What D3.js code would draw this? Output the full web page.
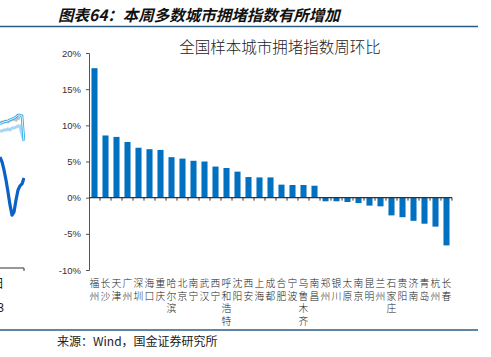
<!DOCTYPE html>
<html><head><meta charset="utf-8">
<script src="https://cdn.jsdelivr.net/npm/d3@7"></script>
<style>html,body{margin:0;padding:0;background:#fff;} svg{display:block}</style>
</head><body>
<svg id="c" width="491" height="357"></svg>
<script>
// ---- main chart data ----
const cities = ["福州","长沙","天津","广州","深圳","海口","重庆","哈尔滨","北京","南宁","武汉","西宁","呼和浩特","沈阳","西安","上海","成都","合肥","宁波","乌鲁木齐","南昌","郑州","银川","太原","南京","昆明","兰州","石家庄","贵阳","济南","青岛","杭州","长春"];
const changes = [17.9,8.6,8.4,7.7,6.9,6.7,6.6,5.6,5.4,5.1,5.0,4.3,4.1,3.6,2.85,2.8,2.8,1.8,1.75,1.75,1.65,-0.5,-0.5,-0.6,-0.75,-1.1,-1.2,-2.45,-2.7,-3.2,-3.6,-4.0,-6.6];
const yTicks = [-10,-5,0,5,10,15,20];
const chartTitle = "全国样本城市拥堵指数周环比";
const headerTitle = "图表64：本周多数城市拥堵指数有所增加";
const sourceText = "来源：Wind，国金证券研究所";

// ---- cropped neighbouring chart (left edge) ----
const leftIdx = [0,1,2,3,4,5,6,7,8,9,10,11,12];
const leftDark = [51.4,49.1,45.4,40.7,35.2,29.2,24.5,25.9,31.5,36.1,38.0,38.9,41.7];
const leftLight = [63.4,63.4,63.9,63.9,64.4,63.9,64.8,64.8,65.2,65.7,65.7,61.6,58.8];
const leftGray = [67.1,67.6,67.6,68.1,67.6,68.5,68.5,69.0,68.5,69.4,69.0,null,null];
const leftCyan = [66.7,67.2,67.6,67.9,68.1,68.6,69.0,69.4,69.9,70.8,70.8,70.4,58.8];

const svg = d3.select("#c");
svg.append("rect").attr("width",491).attr("height",357).attr("fill","#fff");

// header
svg.append("text").attr("x",58).attr("y",21)
  .attr("font-family","'Noto Sans CJK SC'").attr("font-size",15.5)
  .attr("font-weight","bold").attr("font-style","italic").attr("fill","#111")
  .text(headerTitle);
svg.append("line").attr("x1",0).attr("x2",478).attr("y1",26.5).attr("y2",26.5)
  .attr("stroke","#2b5d86").attr("stroke-width",1.6);
svg.append("line").attr("x1",0).attr("x2",478).attr("y1",330).attr("y2",330)
  .attr("stroke","#2b5d86").attr("stroke-width",1.6);
svg.append("text").attr("x",57).attr("y",346)
  .attr("font-family","'Noto Sans CJK SC'").attr("font-size",12).attr("fill","#222")
  .text(sourceText);

// ---- left cropped chart ----
svg.append("clipPath").attr("id","lc").append("rect")
  .attr("x",0).attr("y",40).attr("width",25).attr("height",300);
const gl = svg.append("g").attr("clip-path","url(#lc)");
const xL = d3.scaleLinear().domain([0,12]).range([0,24]);
const yL = d3.scaleLinear().domain([0,100]).range([268,52]);
const ln = arr => d3.line().defined(d=>d[1]!=null).x(d=>xL(d[0])).y(d=>yL(d[1]))(leftIdx.map((i,k)=>[i,arr[k]]));
gl.append("path").attr("d",ln(leftGray)).attr("fill","none").attr("stroke","#c4c4c4").attr("stroke-width",3);
gl.append("path").attr("d",ln(leftLight)).attr("fill","none").attr("stroke","#a6d8f3").attr("stroke-width",3);
gl.append("path").attr("d",ln(leftCyan)).attr("fill","none").attr("stroke","#2aa7ea").attr("stroke-width",2.6);
gl.append("path").attr("d",ln(leftCyan)).attr("fill","none").attr("stroke","#fff").attr("stroke-width",0.9);
gl.append("path").attr("d",ln(leftDark)).attr("fill","none").attr("stroke","#0a62c9").attr("stroke-width",3.2).attr("stroke-linejoin","round");
svg.append("line").attr("x1",0).attr("x2",xL(12)).attr("y1",yL(0)).attr("y2",yL(0)).attr("stroke","#333").attr("stroke-width",1);
svg.append("line").attr("x1",xL(12)).attr("x2",xL(12)).attr("y1",yL(0)).attr("y2",yL(0)+3).attr("stroke","#333").attr("stroke-width",1);
svg.append("text").attr("x",4).attr("y",288).attr("text-anchor","end")
  .attr("font-family","'Noto Sans CJK SC'").attr("font-size",12).attr("fill","#222").text("日");
svg.append("text").attr("x",4).attr("y",312).attr("text-anchor","end")
  .attr("font-family","'Liberation Sans'").attr("font-size",12).attr("fill","#222").text("3");

// ---- main chart ----
const x = d3.scaleBand().domain(cities).range([89,452]).paddingInner(0.45).paddingOuter(0.225);
const y = d3.scaleLinear().domain([-10,20]).range([270,53]);

svg.append("text").attr("x",280).attr("y",53).attr("text-anchor","middle")
  .attr("font-family","'Noto Sans CJK SC'").attr("font-size",15.5).attr("font-weight",300).attr("fill","#222")
  .text(chartTitle);

svg.append("g").selectAll("rect").data(cities).join("rect")
  .attr("x",d=>x(d)).attr("width",x.bandwidth())
  .attr("y",(d,i)=>y(Math.max(0,changes[i])))
  .attr("height",(d,i)=>Math.abs(y(changes[i])-y(0)))
  .attr("fill","#0070c0");

// y axis
const ya = svg.append("g").attr("transform","translate(89,0)")
  .call(d3.axisLeft(y).tickValues(yTicks).tickSize(3).tickPadding(5).tickFormat(d=>d+"%"));
ya.select(".domain").attr("stroke","#555");
ya.selectAll(".tick line").attr("stroke","#555");
ya.selectAll("text").attr("font-family","'Liberation Sans'").attr("font-size",9.5).attr("fill","#333");

// x axis at zero
const xa = svg.append("g").attr("transform",`translate(0,${y(0)})`);
xa.append("line").attr("x1",89).attr("x2",452).attr("y1",0).attr("y2",0).attr("stroke","#333").attr("stroke-width",1.2);
const bounds = d3.range(cities.length+1).map(i=>89+i*x.step());
xa.selectAll("line.tk").data(bounds.slice(1)).join("line").attr("class","tk")
  .attr("x1",d=>d).attr("x2",d=>d).attr("y1",0).attr("y2",3).attr("stroke","#333");

// category labels (vertical, one text per character)
const lab = svg.append("g");
cities.forEach(d=>{
  const cx = x(d)+x.bandwidth()/2;
  Array.from(d).forEach((ch,k)=>{
    lab.append("text").attr("x",cx).attr("y",287+k*12.5).attr("text-anchor","middle")
      .attr("font-family","'Noto Sans CJK SC'").attr("font-size",9.8).attr("font-weight",300).attr("fill","#222")
      .text(ch);
  });
});
</script>
</body></html>
